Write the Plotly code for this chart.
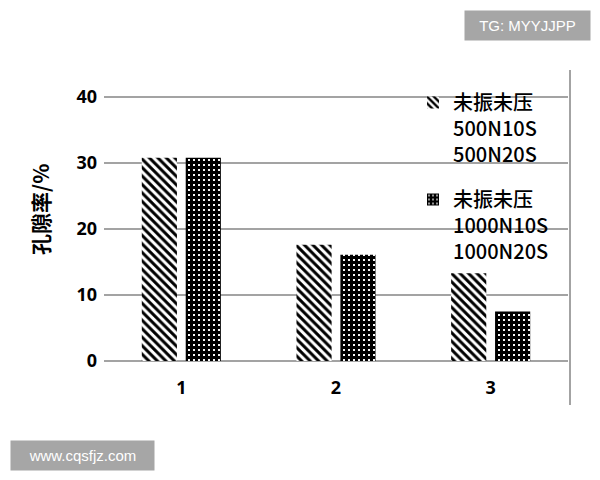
import plotly.graph_objects as go

categories = ["1", "2", "3"]
series1_name = "未振未压<br>500N10S<br>500N20S"
series2_name = "未振未压<br>1000N10S<br>1000N20S"
series1_values = [30.8, 17.6, 13.3]
series2_values = [30.8, 16.1, 7.5]
y_ticks = [0, 10, 20, 30, 40]

# page offset (body margin) compensation
OFF = 8
L, R, T, B = 104, 568, 70, 361
def px(x):
    return (x - L) / (R - L)
def py(y):
    return (B - y) / (B - T)

fig = go.Figure()
fig.add_trace(go.Bar(
    x=categories, y=series1_values, name=series1_name, legendgroup="g1",
    marker=dict(color="white", line=dict(width=0),
                pattern=dict(shape="\\", fgcolor="black", bgcolor="white",
                             size=6, solidity=0.5, fillmode="replace")),
))
fig.add_trace(go.Bar(
    x=categories, y=series2_values, name=series2_name, legendgroup="g2",
    marker=dict(color="white", line=dict(width=0),
                pattern=dict(shape="+", fgcolor="black", bgcolor="white",
                             size=5, solidity=0.85, fillmode="replace")),
))

fig.update_layout(
    width=600, height=480,
    margin=dict(l=L - OFF, r=600 - R + OFF, t=T - OFF, b=480 - B + OFF),
    paper_bgcolor="white", plot_bgcolor="white",
    barmode="group", bargap=0.432, bargroupgap=0.2,
    font=dict(family="Noto Sans CJK SC, Noto Sans", color="black"),
    xaxis=dict(showgrid=False, showline=False, ticks="",
               tickfont=dict(family="Noto Sans", size=18, weight="bold"),
               ticklabelstandoff=14),
    yaxis=dict(range=[0, 44.1], tickvals=y_ticks, showgrid=True,
               gridcolor="#a3a3a3", gridwidth=2, zeroline=True,
               zerolinecolor="#a3a3a3", zerolinewidth=2, showline=False,
               tickfont=dict(family="Noto Sans", size=18, weight="bold"),
               ticklabelstandoff=6),
    legend=dict(x=px(413), y=py(83), xanchor="left", yanchor="top",
                bgcolor="rgba(0,0,0,0)", valign="top",
                font=dict(family="Noto Sans CJK SC", size=20, color="black",
                          weight=500),
                tracegroupgap=16, itemwidth=30, traceorder="grouped"),
    showlegend=True,
)

fig.add_shape(type="line", xref="paper", yref="paper",
              x0=px(570), x1=px(570), y0=py(70), y1=py(405),
              line=dict(color="#a3a3a3", width=2))

fig.add_annotation(text="孔隙率/%", xref="paper", yref="paper",
                   x=px(40), y=py(210), showarrow=False, textangle=-90,
                   xanchor="center", yanchor="middle",
                   font=dict(family="Noto Sans CJK SC", size=21, weight="bold"))

fig.add_annotation(text="TG: MYYJJPP", xref="paper", yref="paper",
                   x=px(527.5), y=py(25), showarrow=False,
                   xanchor="center", yanchor="middle",
                   bgcolor="#a6a6a6", borderpad=6, width=113,
                   font=dict(family="Liberation Sans", size=15, color="white"))
fig.add_annotation(text="www.cqsfjz.com", xref="paper", yref="paper",
                   x=px(82), y=py(455), showarrow=False,
                   xanchor="center", yanchor="middle",
                   bgcolor="#a6a6a6", borderpad=6, width=131,
                   font=dict(family="Liberation Sans", size=15, color="white"))

fig.write_html("out.html")
